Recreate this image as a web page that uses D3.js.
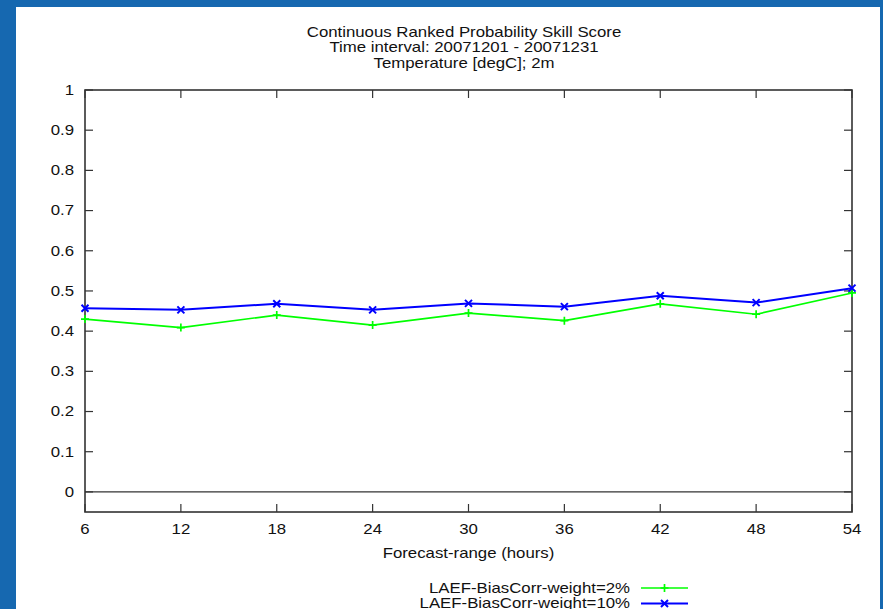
<!DOCTYPE html>
<html>
<head>
<meta charset="utf-8">
<script src="https://cdn.jsdelivr.net/npm/d3@7"></script>
<style>
  html, body { margin: 0; padding: 0; background: #1668b0; }
  svg { display: block; font-family: "Liberation Sans", Arial, sans-serif; }
</style>
</head>
<body>
<svg id="chart" width="883" height="609"></svg>
<script>
// forecast ranges (hours)
const ranges = [6, 12, 18, 24, 30, 36, 42, 48, 54];
// CRPSS values
const weight2 = [0.430, 0.409, 0.440, 0.415, 0.445, 0.426, 0.468, 0.442, 0.495];
const weight10 = [0.457, 0.453, 0.468, 0.453, 0.469, 0.461, 0.488, 0.471, 0.507];
const yTicks = [0, 0.1, 0.2, 0.3, 0.4, 0.5, 0.6, 0.7, 0.8, 0.9, 1];
const titleLines = ["Continuous Ranked Probability Skill Score", "Time interval: 20071201 - 20071231", "Temperature [degC]; 2m"];
const seriesNames = ["LAEF-BiasCorr-weight=2%", "LAEF-BiasCorr-weight=10%"];

const svg = d3.select("#chart");
const axisColor = "#333";
const stretch = 1.2; // gnuplot's font renders wider than Liberation Sans

// white page panel inside the blue frame
svg.append("rect").attr("x", 16).attr("y", 7).attr("width", 864).attr("height", 602).attr("fill", "#fff");

const pl = 85, pr = 852, pt = 90, pb = 512;
const x = d3.scaleLinear().domain([6, 54]).range([pl, pr]);
const y = d3.scaleLinear().domain([-0.05, 1]).range([pb, pt]);

// places a horizontally stretched label
function label(sel, tx, ty, anchor) {
    return sel.attr("transform", (d, i) => `translate(${tx(d, i)},${ty(d, i)}) scale(${stretch},1)`)
        .attr("dy", "0.35em").attr("text-anchor", anchor)
        .style("font-size", "14px").attr("fill", "#111");
}

// titles
label(svg.append("g").selectAll("text").data(titleLines).join("text"), () => 464, (d, i) => 32 + i * 15.5, "middle").text(d => d);

// zero line
svg.append("line").attr("x1", pl).attr("x2", pr).attr("y1", y(0)).attr("y2", y(0)).attr("stroke", axisColor).attr("stroke-width", 1.2);

// ticks (inward, mirrored on both sides)
const tk = 8;
const tickG = svg.append("g").attr("stroke", axisColor).attr("stroke-width", 1.2);
yTicks.forEach(v => {
    tickG.append("line").attr("x1", pl).attr("x2", pl + tk).attr("y1", y(v)).attr("y2", y(v));
    tickG.append("line").attr("x1", pr - tk).attr("x2", pr).attr("y1", y(v)).attr("y2", y(v));
});
ranges.forEach(v => {
    tickG.append("line").attr("x1", x(v)).attr("x2", x(v)).attr("y1", pb).attr("y2", pb - tk);
    tickG.append("line").attr("x1", x(v)).attr("x2", x(v)).attr("y1", pt).attr("y2", pt + tk);
});

// tick labels
label(svg.append("g").selectAll("text").data(yTicks).join("text"), () => pl - 11, d => y(d), "end")
    .text(d => d3.format("~g")(d));
label(svg.append("g").selectAll("text").data(ranges).join("text"), d => x(d), () => pb + 17, "middle")
    .text(d => d);

label(svg.append("text").datum(0), () => (pl + pr) / 2, () => 553, "middle").text("Forecast-range (hours)");

// frame
svg.append("rect").attr("x", pl).attr("y", pt).attr("width", pr - pl).attr("height", pb - pt)
    .attr("fill", "none").attr("stroke", axisColor).attr("stroke-width", 1.6);

// series
const line = d3.line().x((d, i) => x(ranges[i])).y(d => y(d));
const plus = (g, cx, cy, s) => g.append("path").attr("d", `M${cx - s},${cy}H${cx + s}M${cx},${cy - s}V${cy + s}`);
const cross = (g, cx, cy, s) => g.append("path").attr("d", `M${cx - s},${cy - s}L${cx + s},${cy + s}M${cx - s},${cy + s}L${cx + s},${cy - s}`);

const series = [
    { values: weight2, color: "#00ff00", width: 1.7, marker: plus, size: 4 },
    { values: weight10, color: "#0000ff", width: 2, marker: cross, size: 3.5 }
];

series.forEach(s => {
    const g = svg.append("g").attr("fill", "none").attr("stroke", s.color);
    g.append("path").datum(s.values).attr("d", line).attr("stroke-width", s.width);
    const mg = g.append("g").attr("stroke-width", s.width);
    s.values.forEach((v, i) => s.marker(mg, x(ranges[i]), y(v), s.size));
});

// legend
series.forEach((s, i) => {
    const ly = 588 + i * 15.5;
    label(svg.append("text").datum(i), () => 630, () => ly, "end").text(seriesNames[i]);
    const g = svg.append("g").attr("fill", "none").attr("stroke", s.color).attr("stroke-width", s.width);
    g.append("line").attr("x1", 641).attr("x2", 688).attr("y1", ly).attr("y2", ly);
    s.marker(g, 664.5, ly, s.size);
});
</script>
</body>
</html>
